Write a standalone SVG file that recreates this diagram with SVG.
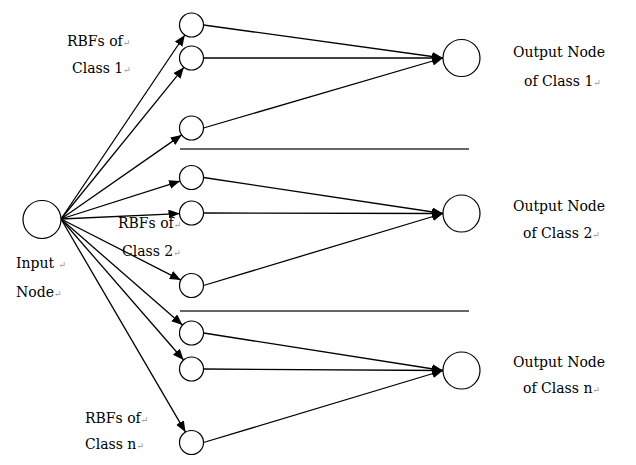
<svg xmlns="http://www.w3.org/2000/svg" width="636" height="465" viewBox="0 0 636 465">
<style>
  .node { fill: #fff; stroke: #000; stroke-width: 1.2; }
  .edge { stroke: #000; stroke-width: 1.3; fill: none; marker-end: url(#arr); }
  .sep { stroke: #333; stroke-width: 1.3; }
  text { font-family: "DejaVu Serif", "Liberation Serif", serif; font-size: 14px; fill: #000; }
  .ret { fill: #999; font-size: 9px; }
</style>
<defs>
  <marker id="arr" markerUnits="userSpaceOnUse" markerWidth="12" markerHeight="10" refX="11" refY="4.5" orient="auto">
    <path d="M0,0 L11,4.5 L0,9 z" fill="#000"/>
  </marker>
</defs>
<rect width="636" height="465" fill="#fff"/>
<g id="connectors">
  <line class="edge" x1="61" y1="219" x2="184.8" y2="35"/>
  <line class="edge" x1="61" y1="219" x2="183.9" y2="67.3"/>
  <line class="edge" x1="61" y1="219" x2="181.7" y2="134.9"/>
  <line class="edge" x1="61" y1="219" x2="180.1" y2="181.1"/>
  <line class="edge" x1="61" y1="219" x2="179.5" y2="213.6"/>
  <line class="edge" x1="61" y1="219" x2="180.8" y2="280.1"/>
  <line class="edge" x1="61" y1="219" x2="182.5" y2="325.1"/>
  <line class="edge" x1="61" y1="219" x2="183.6" y2="360"/>
  <line class="edge" x1="61" y1="219" x2="185.5" y2="432.1"/>
  <line class="edge" x1="203.5" y1="25" x2="443" y2="58"/>
  <line class="edge" x1="203.5" y1="58" x2="443" y2="58"/>
  <line class="edge" x1="203.5" y1="128" x2="443" y2="58"/>
  <line class="edge" x1="203.5" y1="177.5" x2="443" y2="213.5"/>
  <line class="edge" x1="203.5" y1="213" x2="443" y2="213.5"/>
  <line class="edge" x1="203.5" y1="285.5" x2="443" y2="213.5"/>
  <line class="edge" x1="203.5" y1="333" x2="443" y2="370.5"/>
  <line class="edge" x1="203.5" y1="369" x2="443" y2="370.5"/>
  <line class="edge" x1="203.5" y1="442.5" x2="443" y2="370.5"/>
</g>
<g id="separators">
  <line class="sep" x1="180" y1="149" x2="469" y2="149"/>
  <line class="sep" x1="180" y1="311" x2="469" y2="311"/>
</g>
<g id="input-node">
  <circle class="node" cx="42" cy="219.5" r="19"/>
  <text x="16" y="268">Input <tspan class="ret">↵</tspan></text>
  <text x="16" y="297">Node<tspan class="ret">↵</tspan></text>
</g>
<g id="rbf-class1">
  <circle class="node" cx="191.5" cy="25" r="12"/>
  <circle class="node" cx="191.5" cy="58" r="12"/>
  <circle class="node" cx="191.5" cy="128" r="12"/>
  <text x="67" y="46">RBFs of<tspan class="ret">↵</tspan></text>
  <text x="72" y="73">Class 1<tspan class="ret">↵</tspan></text>
</g>
<g id="rbf-class2">
  <circle class="node" cx="191.5" cy="177.5" r="12"/>
  <circle class="node" cx="191.5" cy="213" r="12"/>
  <circle class="node" cx="191.5" cy="285.5" r="12"/>
  <text x="118" y="228">RBFs of<tspan class="ret">↵</tspan></text>
  <text x="122" y="256">Class 2<tspan class="ret">↵</tspan></text>
</g>
<g id="rbf-classn">
  <circle class="node" cx="191.5" cy="333" r="12"/>
  <circle class="node" cx="191.5" cy="369" r="12"/>
  <circle class="node" cx="191.5" cy="442.5" r="12"/>
  <text x="85" y="423">RBFs of<tspan class="ret">↵</tspan></text>
  <text x="85" y="449">Class n<tspan class="ret">↵</tspan></text>
</g>
<g id="output-class1">
  <circle class="node" cx="461.5" cy="58" r="18.5"/>
  <text x="513" y="57">Output Node</text>
  <text x="524" y="86">of Class 1<tspan class="ret">↵</tspan></text>
</g>
<g id="output-class2">
  <circle class="node" cx="461.5" cy="213.5" r="18.5"/>
  <text x="513" y="211">Output Node</text>
  <text x="523" y="238">of Class 2<tspan class="ret">↵</tspan></text>
</g>
<g id="output-classn">
  <circle class="node" cx="461.5" cy="370.5" r="18.5"/>
  <text x="513" y="367">Output Node</text>
  <text x="523" y="393">of Class n<tspan class="ret">↵</tspan></text>
</g>
</svg>
